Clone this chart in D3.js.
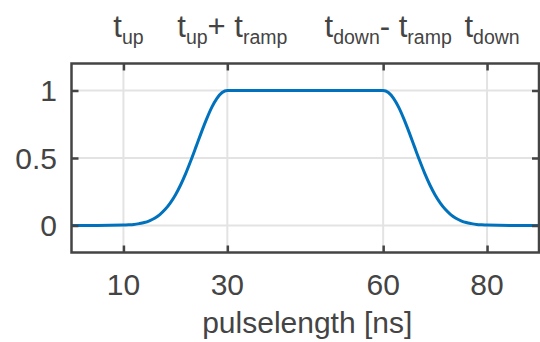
<!DOCTYPE html>
<html>
<head>
<meta charset="utf-8">
<script src="https://cdn.jsdelivr.net/npm/d3@7"></script>
<style>
  html, body { margin: 0; padding: 0; background: #fff; }
  svg text { font-family: "Liberation Sans", Arial, Helvetica, sans-serif; fill: #444; }
</style>
</head>
<body>
<div id="chart"></div>
<script>
// pulse envelope, time in ns
const time = [0, 5, 10, 11, 12, 13, 14, 15, 16, 17, 18, 19, 20, 21, 22, 23, 24, 25, 26, 27, 28, 29, 30,
              45, 60, 61, 62, 63, 64, 65, 66, 67, 68, 69, 70, 71, 72, 73, 74, 75, 76, 77, 78, 79, 80, 85, 90];
const amplitude = [0, 0, 0.003, 0.005, 0.008, 0.014, 0.022, 0.035, 0.054, 0.081, 0.118, 0.166, 0.226, 0.300,
                   0.386, 0.483, 0.586, 0.690, 0.788, 0.875, 0.942, 0.985, 1,
                   1, 1, 0.985, 0.942, 0.875, 0.788, 0.690, 0.586, 0.483, 0.386, 0.300, 0.226, 0.166, 0.118,
                   0.081, 0.054, 0.035, 0.022, 0.014, 0.008, 0.005, 0.003, 0, 0];

const xTicks = [10, 30, 60, 80];
const yTicks = [0, 0.5, 1];
const yTickLabels = ["0", "0.5", "1"];
// top labels: [main, subscript] pieces
const topLabels = [
    [["t", "up"]],
    [["t", "up"], ["+ t", "ramp"]],
    [["t", "down"], ["- t", "ramp"]],
    [["t", "down"]]
];

function drawChart() {
    const width = 540, height = 342;
    const left = 71.5, right = 539, top = 63.5, bottom = 252.5;
    const axisColor = "#444";

    const x = d3.scaleLinear().domain([0, 90]).range([left, right]);
    const y = d3.scaleLinear().domain([-0.2, 1.2]).range([bottom, top]);

    const svg = d3.select("#chart")
        .append("svg")
        .attr("width", width)
        .attr("height", height);

    // grid
    svg.append("g")
        .selectAll("line")
        .data(xTicks)
        .enter()
        .append("line")
        .attr("x1", d => x(d)).attr("x2", d => x(d))
        .attr("y1", top).attr("y2", bottom)
        .attr("stroke", "#e3e3e3")
        .attr("stroke-width", 2);

    svg.append("g")
        .selectAll("line")
        .data(yTicks)
        .enter()
        .append("line")
        .attr("x1", left).attr("x2", right)
        .attr("y1", d => y(d)).attr("y2", d => y(d))
        .attr("stroke", "#e3e3e3")
        .attr("stroke-width", 2);

    // pulse
    const line = d3.line()
        .x((d, i) => x(time[i]))
        .y(d => y(d))
        .curve(d3.curveMonotoneX);

    svg.append("path")
        .datum(amplitude)
        .attr("fill", "none")
        .attr("stroke", "#0072BD")
        .attr("stroke-width", 3)
        .attr("d", line);

    // box with inward ticks on all sides
    const tickLen = 7;
    const xAxisB = d3.axisBottom(x).tickValues(xTicks).tickSizeInner(-tickLen).tickSizeOuter(0).tickFormat("");
    const xAxisT = d3.axisTop(x).tickValues(xTicks).tickSizeInner(-tickLen).tickSizeOuter(0).tickFormat("");
    const yAxisL = d3.axisLeft(y).tickValues(yTicks).tickSizeInner(-tickLen).tickSizeOuter(0).tickFormat("");
    const yAxisR = d3.axisRight(y).tickValues(yTicks).tickSizeInner(-tickLen).tickSizeOuter(0).tickFormat("");

    const axes = [
        [xAxisB, `translate(0,${bottom})`],
        [xAxisT, `translate(0,${top})`],
        [yAxisL, `translate(${left},0)`],
        [yAxisR, `translate(${right},0)`]
    ];
    axes.forEach(([ax, tr]) => {
        const g = svg.append("g").attr("transform", tr).call(ax);
        g.select(".domain").remove();
        g.selectAll(".tick line").attr("stroke", axisColor).attr("stroke-width", 2.5);
    });

    svg.append("rect")
        .attr("x", left).attr("y", top)
        .attr("width", right - left).attr("height", bottom - top)
        .attr("fill", "none")
        .attr("stroke", axisColor)
        .attr("stroke-width", 2.5);

    // tick labels
    svg.append("g")
        .selectAll("text")
        .data(xTicks)
        .enter()
        .append("text")
        .attr("x", d => x(d))
        .attr("y", 295)
        .attr("text-anchor", "middle")
        .style("font-size", "30px")
        .text(d => d);

    svg.append("g")
        .selectAll("text")
        .data(yTicks)
        .enter()
        .append("text")
        .attr("x", 57)
        .attr("y", d => y(d) + 10.5)
        .attr("text-anchor", "end")
        .style("font-size", "30px")
        .text((d, i) => yTickLabels[i]);

    svg.append("text")
        .attr("x", (left + right) / 2 + 2)
        .attr("y", 333)
        .attr("text-anchor", "middle")
        .style("font-size", "30px")
        .text("pulselength [ns]");

    // top labels with subscripts
    const subShift = 7;
    topLabels.forEach((parts, i) => {
        const t = svg.append("text")
            .attr("x", x(xTicks[i]) + 5)
            .attr("y", 37)
            .attr("text-anchor", "middle")
            .style("font-size", "31px");
        parts.forEach(([main, sub], j) => {
            t.append("tspan")
                .attr("dy", j === 0 ? 0 : -subShift)
                .text(main);
            t.append("tspan")
                .attr("dy", subShift)
                .style("font-size", "19.5px")
                .text(sub);
        });
    });
}

drawChart();
</script>
</body>
</html>
